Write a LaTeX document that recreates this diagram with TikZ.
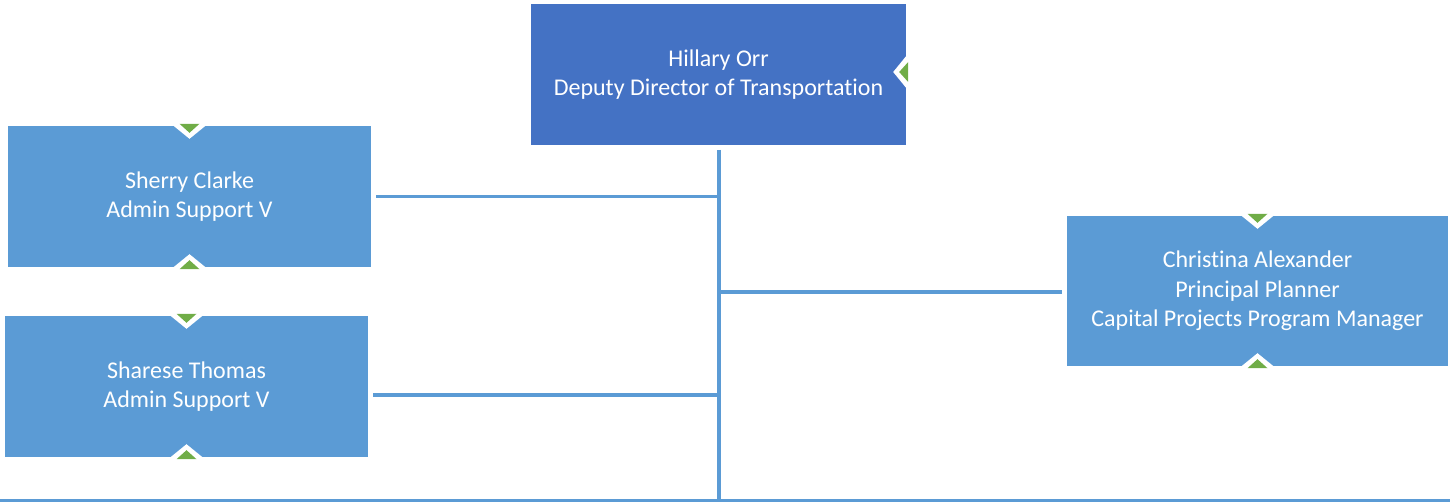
\documentclass[tikz,border=0pt]{standalone}
\usepackage{fontspec}
\setmainfont{Carlito}[Ligatures={NoCommon}]
\definecolor{darkbox}{HTML}{4472C4}
\definecolor{lightbox}{HTML}{5B9BD5}
\definecolor{trigreen}{HTML}{70AD47}
\definecolor{linecol}{HTML}{5B9BD5}
\begin{document}
\begin{tikzpicture}[x=1pt,y=-1pt,
  box/.style={fill=lightbox, draw=none, inner sep=0pt, text=white,
    font=\fontsize{24}{29.3}\selectfont, align=center},
  conn/.style={draw=linecol, line width=3.5pt},
  marker/.pic={
    \fill[white] (-16,0) -- (16,0) -- (0,13) -- cycle;
    \fill[trigreen] (-10,-2) -- (10,-2) -- (0,7) -- cycle;
  }]
\useasboundingbox (0,0) rectangle (1450,502);

\node[box, fill=darkbox, minimum width=375pt, minimum height=141pt] (orr) at (718.5,74.5)
  {Hillary Orr\\Deputy Director of Transportation};
\node[box, minimum width=363pt, minimum height=141pt] (clarke) at (189.5,196.5)
  {Sherry Clarke\\Admin Support V};
\node[box, minimum width=363pt, minimum height=141pt] (thomas) at (186.5,386.5)
  {Sharese Thomas\\Admin Support V};
\node[box, minimum width=381pt, minimum height=150pt] (alex) at (1257.5,291)
  {Christina Alexander\\Principal Planner\\Capital Projects Program Manager};

% markers
\path ([yshift=2.5pt]orr.east) pic[rotate=-90] {marker};
\path (clarke.north) pic {marker};
\path (clarke.south) pic[rotate=180] {marker};
\path (thomas.north) pic {marker};
\path (thomas.south) pic[rotate=180] {marker};
\path (alex.north) pic {marker};
\path (alex.south) pic[rotate=180] {marker};

% connectors
\coordinate (spinetop) at (719,150);
\coordinate (spinebot) at (719,500.5);
\coordinate (baseL) at (0,500.5);
\coordinate (baseR) at (1450,500.5);
\draw[conn] (spinetop) -- (spinebot);
\draw[conn, line width=3pt] (baseL) -- (baseR);
\draw[conn] ([xshift=5pt]clarke.east) -- (clarke.east -| spinetop);
\draw[conn] ([xshift=5pt,yshift=-8.5pt]thomas.east) -- ([yshift=-8.5pt]thomas.east -| spinetop);
\draw[conn] ([xshift=-5pt,yshift=-1pt]alex.west) -- ([yshift=-1pt]alex.west -| spinetop);
\end{tikzpicture}
\end{document}
